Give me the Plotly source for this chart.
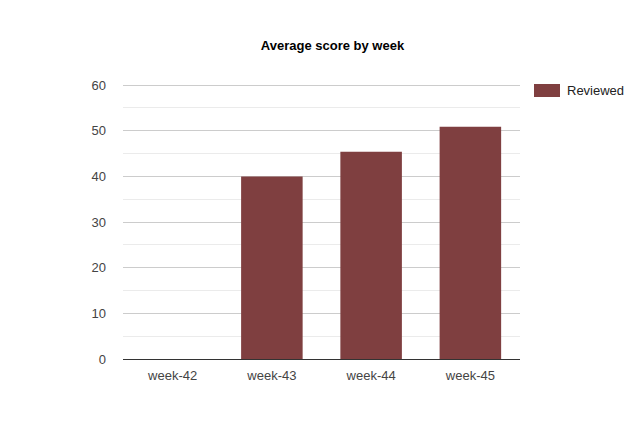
import plotly.graph_objects as go

weeks = ['week-42', 'week-43', 'week-44', 'week-45']
reviewed = [None, 40, 45.4, 50.9]
y_ticks = [0, 10, 20, 30, 40, 50, 60]
serie = 'Reviewed'

cor = '#7f3f40'

# a pagina tem margem de 8px no body, por isso as margens ja descontam isso
W, H = 644, 444
m_l, m_r, m_t, m_b = 115, 132, 76, 93
larg_plot = W - m_l - m_r
alt_plot = H - m_t - m_b

fig = go.Figure()
fig.add_trace(go.Bar(
    x=weeks, y=reviewed,
    name=serie,
    marker=dict(color=cor, line=dict(width=0)),
    showlegend=False,
))

# legenda desenhada a mao (amostra larga, como no original)
x0 = 1 + 14 / larg_plot
x1 = 1 + 40 / larg_plot
y0 = 1 - 13 / alt_plot
y1 = 1 - 0 / alt_plot
fig.add_shape(type='rect', xref='paper', yref='paper', x0=x0, x1=x1, y0=y0, y1=y1,
              fillcolor=cor, line=dict(width=0))
fig.add_annotation(text=serie, xref='paper', yref='paper', x=1 + 45 / larg_plot,
                   y=(y0 + y1) / 2, xanchor='left', yanchor='middle', showarrow=False,
                   font=dict(size=13, color='#222222'))

fig.update_layout(
    width=W, height=H,
    margin=dict(l=m_l, r=m_r, t=m_t, b=m_b),
    paper_bgcolor='white',
    plot_bgcolor='white',
    font=dict(family='Arial, Liberation Sans, sans-serif', size=13, color='#444444'),
    title=dict(text='<b>Average score by week</b>', x=(m_l + larg_plot / 2 + 11) / W,
               xanchor='center', y=1 - 37 / H, yanchor='middle',
               font=dict(size=13, color='#000000')),
    bargap=0.38,
    showlegend=False,
    xaxis=dict(showgrid=False, showline=True, linecolor='#333333', linewidth=1,
               ticks='', ticklabelstandoff=4, tickfont=dict(size=13, color='#444444')),
    yaxis=dict(range=[0, 60.25], tickvals=y_ticks, showgrid=True, gridcolor='#cccccc',
               zeroline=False, showline=False, ticks='', ticklabelstandoff=16,
               minor=dict(dtick=5, showgrid=True, gridcolor='#ebebeb'),
               tickfont=dict(size=13, color='#444444')),
)

fig.write_html('out.html')
